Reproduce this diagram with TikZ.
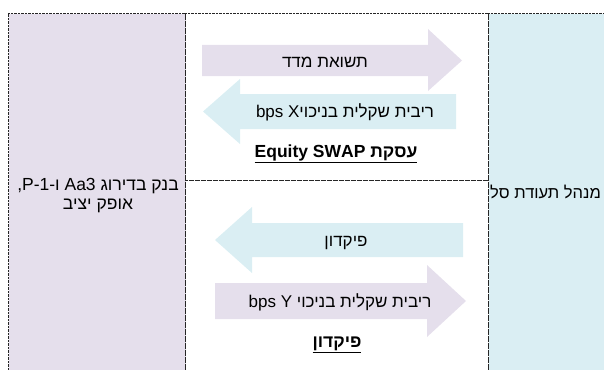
\documentclass[tikz,border=0pt]{standalone}
\usepackage{fontspec}
\setmainfont{Liberation Sans}
\newfontfamily\heb[Script=Hebrew]{Liberation Sans}
\TeXXeTstate=1
\definecolor{lav}{HTML}{E5DFEC}
\definecolor{lblue}{HTML}{DAEEF3}
\tikzset{
  bord/.style={draw=black!85, line width=1.4pt, dash pattern=on 0.8pt off 0.6pt},
  thinline/.style={draw=black!85, line width=0.8pt, dash pattern=on 0.8pt off 0.4pt},
  boxtext/.style={font=\heb\fontsize{17.5}{19}\selectfont, align=center, inner sep=0pt},
  etfstyle/.style={font=\heb\fontsize{16.5}{19}\selectfont, inner sep=0pt},
  arrtext/.style={font=\heb\fontsize{17}{19}\selectfont, inner sep=0pt},
  title/.style={font=\heb\bfseries\fontsize{17.5}{20}\selectfont, inner sep=0pt},
  lavarrow/.style={fill=lav},
  bluearrow/.style={fill=lblue}
}
\begin{document}
\begin{tikzpicture}[x=1pt,y=-1pt]
\useasboundingbox (0,0) rectangle (604,369);
\clip (0,0) rectangle (604,369);
% boxes
\node[bord, fill=lav, minimum width=177pt, minimum height=367pt, anchor=north west, inner sep=0pt] (bank) at (8,13) {};
\node[bord, fill=lblue, minimum width=177pt, minimum height=367pt, anchor=north west, inner sep=0pt] (etf) at (488,13) {};
\node[bord, minimum width=303pt, minimum height=367pt, anchor=north west, inner sep=0pt] (mid) at (185,13) {};
\coordinate (divL) at (185,180);
\coordinate (divR) at (488,180);
\draw[thinline] (divL) -- (divR);
% box texts
\node[boxtext] (banktext) at (98,196) {\beginR בנק בדירוג \beginL Aa3\endL{} ו-\beginL P-1\endL,\endR\\\beginR אופק יציב\endR};
\node[etfstyle, anchor=west] (etftext) at (490,192) {\beginR מנהל תעודת סל\endR};
% top arrows
\fill[lavarrow] (202,45) -- (428,45) -- (428,29) -- (462,60.5) -- (428,91) -- (428,76) -- (202,76) -- cycle;
\fill[bluearrow] (203,111.5) -- (240,79) -- (240,94) -- (456,94) -- (456,129) -- (240,129) -- (240,144) -- cycle;
\node[arrtext] (t1) at (325,62) {\beginR תשואת מדד\endR};
\node[arrtext] (t2) at (345,112) {bps X\beginR ריבית שקלית בניכוי\endR};
\node[title] (swap) at (336,154) {\underline{\beginR עסקת \beginL Equity SWAP\endL\endR}};
% bottom arrows
\fill[bluearrow] (215,240) -- (252,207) -- (252,223) -- (463,223) -- (463,257) -- (252,257) -- (252,273) -- cycle;
\fill[lavarrow] (215,283) -- (427,283) -- (427,265) -- (466,301) -- (427,337) -- (427,319) -- (215,319) -- cycle;
\node[arrtext] (t3) at (346,243) {\beginR פיקדון\endR};
\node[arrtext] (t4) at (340,302) {bps Y \beginR ריבית שקלית בניכוי\endR};
\node[title] (dep) at (337,345) {\underline{\beginR פיקדון\endR}};
\end{tikzpicture}
\end{document}
